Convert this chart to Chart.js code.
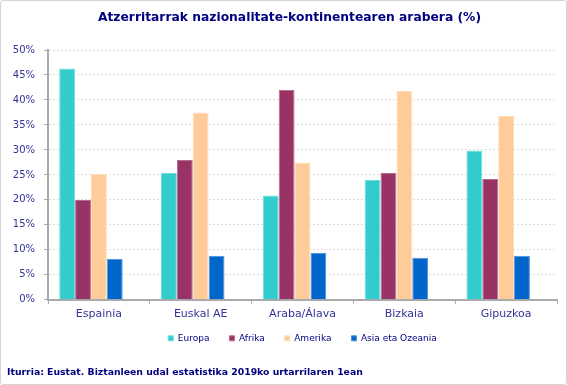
<!DOCTYPE html>
<html>
<head>
<meta charset="utf-8">
<script src="https://cdn.jsdelivr.net/npm/chart.js@4"></script>
<style>
  html, body { margin: 0; padding: 0; background: #fff; }
  #wrap { position: relative; width: 565px; height: 383px; border: 1px solid #d4d4d4; border-radius: 3px; }
  canvas { display: block; }
</style>
</head>
<body>
<div id="wrap"><canvas id="chart" width="565" height="383"></canvas></div>
<script>
// Atzerritarrak nazionalitate-kontinentearen arabera (%)
const categories = ['Espainia', 'Euskal AE', 'Araba/Álava', 'Bizkaia', 'Gipuzkoa'];
const europa  = [46.3, 25.4, 20.9, 24.0, 29.9];
const afrika  = [20.0, 28.0, 42.0, 25.4, 24.2];
const amerika = [25.2, 37.5, 27.5, 41.8, 36.8];
const asia    = [8.2, 8.8, 9.4, 8.4, 8.8];

const titleText = 'Atzerritarrak nazionalitate-kontinentearen arabera (%)';
const sourceText = 'Iturria: Eustat. Biztanleen udal estatistika 2019ko urtarrilaren 1ean';
const navy = '#000080';
const tickBlue = '#333399';

// title is drawn by hand, slightly right of the canvas centre like the original
const titlePlugin = {
    id: 'topTitle',
    afterDraw(chart) {
        const ctx = chart.ctx;
        ctx.save();
        ctx.font = 'bold 12.3px "DejaVu Sans"';
        ctx.fillStyle = navy;
        ctx.textAlign = 'center';
        ctx.textBaseline = 'middle';
        ctx.fillText(titleText, chart.width / 2 + 6, 17);
        ctx.restore();
    }
};

// legend centred under the plot area; x labels allowed to hang below their (squeezed) box
const layoutTweaks = {
    id: 'layoutTweaks',
    afterLayout(chart) {
        const lg = chart.legend, a = chart.chartArea;
        const d = (a.left + a.right) / 2 - (lg.left + lg.right) / 2;
        lg.left += d; lg.right += d;
        chart.scales.x.bottom += 12;
    }
};

const series = [
    { label: 'Europa', data: europa, backgroundColor: '#33CCCC', borderColor: '#6fdcdc' },
    { label: 'Afrika', data: afrika, backgroundColor: '#993366', borderColor: '#b46b8f' },
    { label: 'Amerika', data: amerika, backgroundColor: '#FFCC99', borderColor: '#ffddba' },
    { label: 'Asia eta Ozeania', data: asia, backgroundColor: '#0066CC', borderColor: '#4d94db' },
    { label: '', data: [] } // empty slot, the original leaves room for a fifth bar
];

new Chart(document.getElementById('chart'), {
    type: 'bar',
    data: {
        labels: categories,
        datasets: series.map(d => Object.assign(d, { borderWidth: 1, categoryPercentage: 0.78, barPercentage: 1 }))
    },
    plugins: [titlePlugin, layoutTweaks],
    options: {
        responsive: false, animation: false,
        layout: { padding: { left: 6, right: 9, top: 49, bottom: 4 } },
        plugins: {
            title: { display: false },
            subtitle: { display: true, position: 'bottom', align: 'start', color: navy, text: sourceText,
                font: { family: 'DejaVu Sans', size: 9.3, weight: 'bold' }, padding: { top: 14, bottom: 2 } },
            legend: { position: 'bottom',
                labels: { boxWidth: 5, boxHeight: 5, padding: 20, color: navy,
                    font: { family: 'DejaVu Sans', size: 9 },
                    filter: item => item.text !== '' } },
            tooltip: { enabled: false }
        },
        scales: {
            y: {
                min: 0, max: 50,
                afterFit: s => { s.width = 41; },
                ticks: { stepSize: 5, color: tickBlue, padding: 9, callback: v => v + '%',
                    font: { family: 'DejaVu Sans', size: 10 } },
                grid: { color: '#dddddd', tickLength: 4, tickColor: '#aaaaaa' },
                border: { color: '#aaaaaa', width: 2, dash: [2, 2] }
            },
            x: {
                offset: true,
                afterFit: s => { s.height = 14; },
                ticks: { color: tickBlue, padding: 4, font: { family: 'DejaVu Sans', size: 11 } },
                grid: { drawOnChartArea: false, offset: true, tickLength: 4, tickColor: '#aaaaaa' },
                border: { color: '#aaaaaa', width: 2 }
            }
        }
    }
});
</script>
</body>
</html>
